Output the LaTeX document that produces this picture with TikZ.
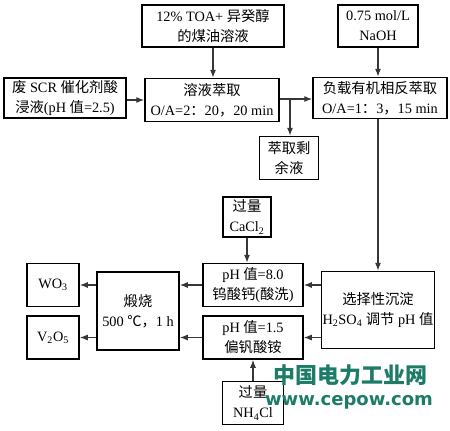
\documentclass[tikz,border=0pt]{standalone}
\usepackage{fontspec}
\setmainfont{Liberation Serif}
\newfontfamily\cjk{Noto Sans CJK SC}
\newfontfamily\wmfont{DejaVu Sans}
\usetikzlibrary{arrows.meta,positioning,calc}
\definecolor{flowgray}{RGB}{55,55,55}
\definecolor{cepowgreen}{RGB}{28,124,104}
\newcommand{\zh}[1]{{\cjk #1}}
\tikzset{
  procbox/.style={draw=black, line width=1.5pt, fill=white, align=center,
    inner sep=0pt, font=\fontsize{14.3}{20}\selectfont},
  flow/.style={-{Latex[length=8pt,width=6pt]}, line width=1.1pt, draw=flowgray},
  wmtext/.style={text=cepowgreen, inner sep=0pt}
}

\begin{document}
\begin{tikzpicture}[x=1pt,y=-1pt]
  \useasboundingbox (0,0) rectangle (450,431);
  % extraction stage
  \node[procbox, minimum width=142pt, minimum height=42pt] (toa) at (213,26)
    {12\% TOA+ \zh{异癸醇}\\\zh{的煤油溶液}};
  \node[procbox, minimum width=80pt, minimum height=42pt] (naoh) at (378,26)
    {0.75 mol/L\\NaOH};
  \node[procbox, minimum width=122pt, minimum height=40pt] (scr) at (65,98)
    {\zh{废} SCR \zh{催化剂酸}\\\zh{浸液}(pH \zh{值}=2.5)};
  \node[procbox, minimum width=134pt, minimum height=43pt] (extr) at (212,100)
    {\zh{溶液萃取}\\O/A=2\zh{：}20\zh{，}20 min};
  \node[procbox, minimum width=134pt, minimum height=41pt] (strip) at (380,98)
    {\zh{负载有机相反萃取}\\O/A=1\zh{：}3\zh{，}15 min};
  \node[procbox, minimum width=59pt, minimum height=43pt] (raff) at (289,158)
    {\zh{萃取剩}\\\zh{余液}};
  % precipitation stage
  \node[procbox, minimum width=48pt, minimum height=40pt] (cacl) at (247,217)
    {\zh{过量}\\CaCl\textsubscript{2}};
  \node[procbox, minimum width=100pt, minimum height=43pt] (ph8) at (253,285)
    {pH \zh{值}=8.0\\\zh{钨酸钙}(\zh{酸洗})};
  \node[procbox, minimum width=100pt, minimum height=43pt, below=8pt of ph8] (ph15)
    {pH \zh{值}=1.5\\\zh{偏钒酸铵}};
  \node[procbox, minimum width=113pt, minimum height=77pt] (prec) at (378,310)
    {\zh{选择性沉淀}\\H\textsubscript{2}SO\textsubscript{4} \zh{调节} pH \zh{值}};
  \node[procbox, minimum width=82pt, minimum height=78pt] (calc) at (138,311)
    {\zh{煅烧}\\500 \zh{℃，}1 h};
  \node[procbox, minimum width=52pt, minimum height=43pt] (wo3) at (53,285)
    {WO\textsubscript{3}};
  \node[procbox, minimum width=52pt, minimum height=43pt, below=8pt of wo3] (v2o5)
    {V\textsubscript{2}O\textsubscript{5}};
  \node[procbox, minimum width=61pt, minimum height=43pt] (nh4) at (253,403)
    {\zh{过量}\\NH\textsubscript{4}Cl};

  \coordinate (split) at (290,99);
  \draw[flow] (toa) -- (toa |- extr.north);
  \draw[flow] (scr.east |- extr) -- (extr.west);
  \draw[flow] (extr.east |- split) -- (strip.west |- split);
  \draw[flow] (split) -- (split |- raff.north);
  \draw[flow] (naoh) -- (naoh |- strip.north);
  \draw[flow] (prec |- strip.south) -- (prec.north);
  \draw[flow] (cacl) -- (cacl |- ph8.north);
  \draw[flow] (prec.west |- ph8) -- (ph8.east);
  \draw[flow] (prec.west |- ph15) -- (ph15.east);
  \draw[flow] (ph8.west) -- (calc.east |- ph8);
  \draw[flow] (ph15.west) -- (calc.east |- ph15);
  \draw[flow] (calc.west |- wo3) -- (wo3.east);
  \draw[flow] (calc.west |- v2o5) -- (v2o5.east);
  \draw[flow] (nh4) -- (ph15);

  % site watermark
  \node[wmtext, font=\cjk\bfseries\fontsize{22}{22}\selectfont] (wmname) at (350,375)
    {中国电力工业网};
  \node[wmtext, font=\wmfont\bfseries\fontsize{18}{18}\selectfont] (wmurl) at (349,402)
    {www.cepow.com};
\end{tikzpicture}
\end{document}
